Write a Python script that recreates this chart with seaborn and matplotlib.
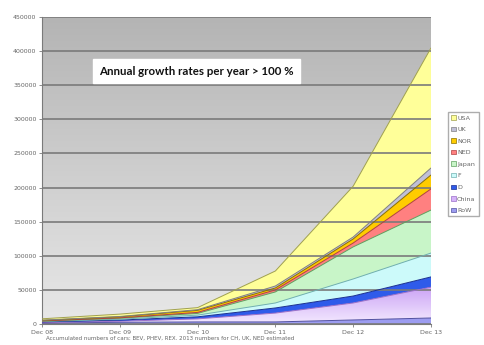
import matplotlib

matplotlib.use("Agg")
import matplotlib.pyplot as plt  # noqa: E402
import numpy as np  # noqa: E402
import seaborn as sns  # noqa: E402
from matplotlib.colors import LinearSegmentedColormap  # noqa: E402
from matplotlib.patches import Patch  # noqa: E402

# accumulated cars per country, stacked bottom-up (RoW first)
YEARS = ["Dec 08", "Dec 09", "Dec 10", "Dec 11", "Dec 12", "Dec 13"]
COUNTRIES = ["RoW", "China", "D", "F", "Japan", "NED", "NOR", "UK", "USA"]
ROW = [1500, 2500, 3000, 3000, 5900, 8800]
CHINA = [500, 1500, 4500, 13000, 24900, 45200]
GER = [1000, 1800, 3000, 7500, 10200, 15000]
FRA = [700, 1200, 2500, 7300, 25000, 35000]
JAPAN = [500, 1500, 2500, 16200, 47000, 63000]
NED = [300, 500, 1500, 3000, 5700, 31000]
NOR = [800, 1500, 3000, 2800, 5900, 20400]
UK = [300, 500, 1000, 2900, 2900, 10300]
USA = [2000, 3500, 3000, 22000, 74500, 175900]
Y_TICKS = list(range(0, 450001, 50000))

FILL = ["#9C9CF0", "#D6B3FA", "#2F5BEA", "#CCFAFA", "#C8F5C8",
        "#FF8080", "#FFCC00", "#C0C0D8", "#FFFF99"]
EDGE = ["#5050A0", "#9A70C8", "#1A2F90", "#70B0B0", "#60A060",
        "#B04040", "#8A7000", "#808080", "#A0A050"]
GRID = "#7A7A7A"
TEXT = "#666666"

sns.set_theme(style="white")
plt.rcParams["font.family"] = ["DejaVu Sans"]

fig = plt.figure(figsize=(4.85, 3.45), dpi=100, facecolor="white")
ax = fig.add_axes([0.0866, 0.0609, 0.802, 0.8898])

x = np.arange(len(YEARS))
series = [ROW, CHINA, GER, FRA, JAPAN, NED, NOR, UK, USA]

# grey gradient plot background
bg = LinearSegmentedColormap.from_list("bg", ["#E8E8E8", "#B4B4B4"])
ax.imshow(np.linspace(0, 1, 256).reshape(-1, 1), extent=[0, 5, 0, 450000],
          origin="lower", aspect="auto", cmap=bg, zorder=0)

polys = ax.stackplot(x, *series, colors=FILL, edgecolor="none", zorder=2)

# purple gradient inside the China band
ch = LinearSegmentedColormap.from_list("ch", ["#F4EAFF", "#C79CF4"])
im = ax.imshow(np.linspace(0, 1, 256).reshape(-1, 1), extent=[0, 5, 0, 60000],
               origin="lower", aspect="auto", cmap=ch, zorder=2.5)
im.set_clip_path(polys[1].get_paths()[0], transform=ax.transData)

# outline of each band
cum = np.cumsum(np.array(series), axis=0)
for top, col in zip(cum, EDGE):
    sns.lineplot(x=x, y=top, color=col, lw=0.7, ax=ax, zorder=3)

ax.set_xlim(0, 5)
ax.set_ylim(0, 450000)
ax.set_yticks(Y_TICKS)
ax.set_yticklabels([str(v) for v in Y_TICKS])
ax.set_xticks(x)
ax.set_xticklabels(YEARS)
ax.tick_params(axis="both", labelsize=4.5, labelcolor=TEXT, length=2.5,
               width=0.6, color=GRID, pad=1.5, bottom=True, left=True)
ax.yaxis.grid(True, color=GRID, lw=1.2)
ax.set_axisbelow(False)
for g in ax.get_ygridlines():
    g.set_zorder(1)
for side in ["top", "right"]:
    ax.spines[side].set_visible(False)
for side in ["left", "bottom"]:
    ax.spines[side].set_color(GRID)
    ax.spines[side].set_linewidth(0.8)
ax.set_xlabel("")
ax.set_ylabel("")

fig.text(0.205, 0.794, "Annual growth rates per year > 100 %", fontsize=8.3,
         fontweight="bold", family=["Lato", "DejaVu Sans"], color="#111111",
         va="center", ha="left",
         bbox=dict(boxstyle="square,pad=0.55", fc="white", ec="white"))

handles = [Patch(facecolor=FILL[i], edgecolor=EDGE[i], lw=0.5, label=COUNTRIES[i])
           for i in range(len(COUNTRIES) - 1, -1, -1)]
fig.legend(handles=handles, loc="upper left", bbox_to_anchor=(0.924, 0.675),
           fontsize=4.6, frameon=True, fancybox=False, edgecolor="#999999",
           handlelength=0.7, handleheight=0.7, handletextpad=0.2,
           labelspacing=0.95, borderpad=0.5, borderaxespad=0, labelcolor=TEXT)

fig.text(0.095, 0.012, "Accumulated numbers of cars: BEV, PHEV, REX. 2013 numbers for CH, UK, NED estimated",
         fontsize=4.0, color=TEXT, ha="left", va="bottom")

fig.savefig("out.png", dpi=100, facecolor="white")
